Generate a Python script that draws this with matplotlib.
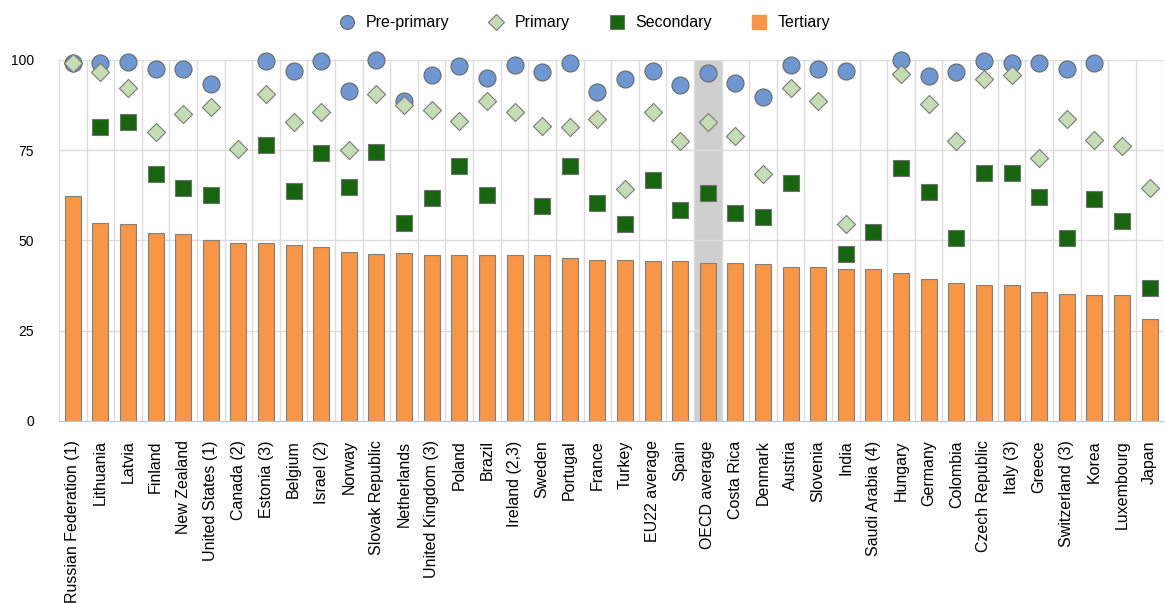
import numpy as np
import matplotlib.pyplot as plt
from matplotlib.lines import Line2D

plt.rcParams['font.family'] = ['Liberation Sans', 'DejaVu Sans']

countries = ["Russian Federation (1)", "Lithuania", "Latvia", "Finland", "New Zealand",
             "United States (1)", "Canada (2)", "Estonia (3)", "Belgium", "Israel (2)",
             "Norway", "Slovak Republic", "Netherlands", "United Kingdom (3)", "Poland",
             "Brazil", "Ireland (2,3)", "Sweden", "Portugal", "France", "Turkey",
             "EU22 average", "Spain", "OECD average", "Costa Rica", "Denmark", "Austria",
             "Slovenia", "India", "Saudi Arabia (4)", "Hungary", "Germany", "Colombia",
             "Czech Republic", "Italy (3)", "Greece", "Switzerland (3)", "Korea",
             "Luxembourg", "Japan"]

nan = np.nan
pre_primary = [99.3, 99.3, 99.5, 97.4, 97.4, 93.3, nan, 99.7, 96.9, 99.7,
               91.4, 100.0, 88.6, 95.8, 98.2, 94.9, 98.6, 96.8, 99.3, 91.2,
               94.6, 96.9, 93.1, 96.5, 93.7, 89.7, 98.6, 97.4, 97.0, nan,
               100.0, 95.6, 96.8, 99.7, 99.1, 99.1, 97.4, 99.3, nan, nan]
primary = [99.3, 96.8, 92.1, 80.1, 85.0, 87.1, 75.3, 90.5, 82.9, 85.7,
           75.1, 90.5, 87.5, 86.1, 83.1, 88.5, 85.7, 81.8, 81.3, 83.6,
           64.3, 85.7, 77.6, 82.9, 78.9, 68.4, 92.1, 88.7, 54.6, nan,
           96.0, 87.7, 77.6, 94.6, 95.8, 72.8, 83.6, 77.8, 76.2, 64.6]
secondary = [nan, 81.5, 82.9, 68.3, 64.5, 62.6, nan, 76.5, 63.7, 74.2,
             64.9, 74.6, 54.8, 61.7, 70.6, 62.6, nan, 59.6, 70.6, 60.3,
             54.6, 66.8, 58.4, 63.2, 57.7, 56.6, 65.8, nan, 46.3, 52.3,
             70.0, 63.5, 50.6, 68.8, 68.8, 62.0, 50.6, 61.5, 55.4, 36.8]
tertiary = [62.4, 54.9, 54.6, 52.2, 51.7, 50.1, 49.2, 49.2, 48.8, 48.1,
            46.8, 46.3, 46.5, 46.0, 46.0, 46.0, 46.0, 46.0, 45.1, 44.6,
            44.6, 44.4, 44.4, 43.9, 43.9, 43.4, 42.7, 42.7, 42.0, 42.0,
            41.1, 39.4, 38.3, 37.8, 37.8, 35.8, 35.3, 34.9, 34.9, 28.2]

x = np.arange(len(countries))

fig = plt.figure(figsize=(11.65, 6.04), dpi=100)
ax = fig.add_axes([0.0506, 0.303, 0.948, 0.5977])

# highlight OECD average
oecd = countries.index("OECD average")
ax.axvspan(oecd - 0.5, oecd + 0.5, color='#cfcfcf', zorder=0.5, lw=0)

ax.bar(x, tertiary, width=0.58, color='#f79646', edgecolor='#808080', lw=0.8, zorder=2)
ax.scatter(x, secondary, marker='s', s=135, color='#17650f', edgecolor='#707070',
           lw=0.8, zorder=3)
ax.scatter(x, pre_primary, marker='o', s=150, color='#6f97d1', edgecolor='#686868',
           lw=0.8, zorder=4, clip_on=False)
ax.scatter(x, primary, marker='D', s=85, color='#c6dcb4', edgecolor='#7a7a7a',
           lw=0.8, zorder=5, clip_on=False)

ax.set_xlim(-0.5, len(countries) - 0.5)
ax.set_ylim(0, 100)
ax.set_yticks([0, 25, 50, 75, 100])
ax.set_xticks(x)
ax.set_xticklabels(countries, rotation=90, fontsize=11.5)
ax.tick_params(axis='both', length=0)
ax.tick_params(axis='y', pad=18, labelsize=10)
ax.tick_params(axis='x', pad=14)

for v in np.arange(-0.5, len(countries), 1):
    ax.axvline(v, color='#dcdcdc', lw=1, zorder=1)
for v in [25, 50, 75, 100]:
    ax.axhline(v, color='#dcdcdc', lw=1, zorder=1)

for s in ['top', 'right', 'left']:
    ax.spines[s].set_visible(False)
ax.spines['bottom'].set_color('#b8c4dc')

handles = [
    Line2D([], [], ls='none', marker='o', ms=10, mfc='#6f97d1', mec='#686868', mew=0.8),
    Line2D([], [], ls='none', marker='D', ms=8, mfc='#c6dcb4', mec='#7a7a7a', mew=0.8),
    Line2D([], [], ls='none', marker='s', ms=10, mfc='#17650f', mec='#707070', mew=0.8),
    Line2D([], [], ls='none', marker='s', ms=10, mfc='#f79646', mec='#f79646'),
]
fig.legend(handles, ['Pre-primary', 'Primary', 'Secondary', 'Tertiary'],
           loc='center', bbox_to_anchor=(0.5, 0.962), ncol=4, frameon=False,
           fontsize=11.5, handletextpad=0.4, columnspacing=2.2, handlelength=1.5)

fig.savefig('out.png', dpi=100)
